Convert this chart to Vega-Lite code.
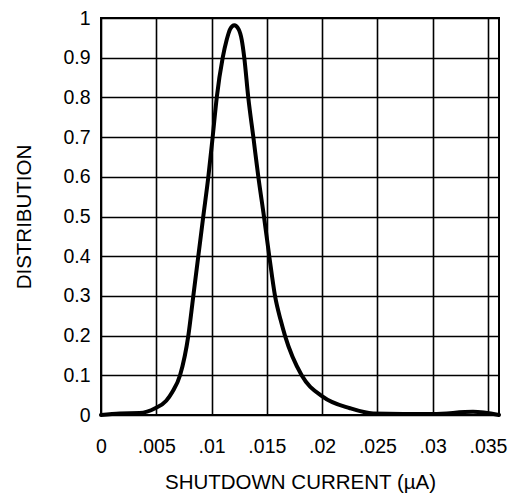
{
  "$schema": "https://vega.github.io/schema/vega-lite/v6.json",
  "width": 398,
  "height": 397,
  "autosize": {"type": "none"},
  "padding": {"left": 101, "top": 18, "right": 20, "bottom": 80},
  "background": "white",
  "config": {
    "view": {"stroke": "black", "strokeWidth": 2},
    "font": "Liberation Sans",
    "axis": {
      "grid": true,
      "gridColor": "black",
      "gridWidth": 1.6,
      "gridOpacity": 1,
      "ticks": false,
      "domain": false,
      "labelFont": "Liberation Sans",
      "labelFontSize": 19.5,
      "labelColor": "black",
      "labelFlush": false,
      "labelOverlap": false,
      "titleFont": "Liberation Sans",
      "titleFontSize": 20.5,
      "titleFontWeight": "normal",
      "titleColor": "black"
    }
  },
  "data": {
    "values": [
      {"current": 0.0, "dist": 0.0},
      {"current": 0.0017, "dist": 0.004},
      {"current": 0.0035, "dist": 0.005},
      {"current": 0.0049, "dist": 0.017},
      {"current": 0.0059, "dist": 0.036},
      {"current": 0.00645, "dist": 0.058},
      {"current": 0.00715, "dist": 0.1},
      {"current": 0.0079, "dist": 0.2},
      {"current": 0.00835, "dist": 0.3},
      {"current": 0.0088, "dist": 0.4},
      {"current": 0.00925, "dist": 0.5},
      {"current": 0.00971, "dist": 0.6},
      {"current": 0.0101, "dist": 0.7},
      {"current": 0.01047, "dist": 0.8},
      {"current": 0.01101, "dist": 0.9},
      {"current": 0.01137, "dist": 0.945},
      {"current": 0.01168, "dist": 0.972},
      {"current": 0.01206, "dist": 0.982},
      {"current": 0.01244, "dist": 0.972},
      {"current": 0.01273, "dist": 0.945},
      {"current": 0.01296, "dist": 0.9},
      {"current": 0.01332, "dist": 0.8},
      {"current": 0.01378, "dist": 0.7},
      {"current": 0.01423, "dist": 0.6},
      {"current": 0.01474, "dist": 0.5},
      {"current": 0.01522, "dist": 0.4},
      {"current": 0.01574, "dist": 0.3},
      {"current": 0.01625, "dist": 0.239},
      {"current": 0.01664, "dist": 0.2},
      {"current": 0.01815, "dist": 0.1},
      {"current": 0.02002, "dist": 0.047},
      {"current": 0.02252, "dist": 0.017},
      {"current": 0.02463, "dist": 0.004},
      {"current": 0.03003, "dist": 0.0025},
      {"current": 0.03365, "dist": 0.008},
      {"current": 0.036, "dist": 0.0}
    ]
  },
  "mark": {"type": "line", "interpolate": "monotone", "color": "black", "strokeWidth": 4, "strokeCap": "round", "strokeJoin": "round"},
  "encoding": {
    "x": {
      "field": "current",
      "type": "quantitative",
      "scale": {"domain": [0, 0.036], "nice": false, "zero": false},
      "axis": {
        "values": [0, 0.005, 0.01, 0.015, 0.02, 0.025, 0.03, 0.035],
        "labelExpr": "datum.value == 0 ? '0' : substring(format(datum.value, '.3~f'), 1)",
        "labelPadding": 22,
        "titlePadding": 17,
        "title": "SHUTDOWN CURRENT (µA)"
      }
    },
    "y": {
      "field": "dist",
      "type": "quantitative",
      "scale": {"domain": [0, 1], "nice": false},
      "axis": {
        "values": [0, 0.1, 0.2, 0.3, 0.4, 0.5, 0.6, 0.7, 0.8, 0.9, 1],
        "format": ".1~f",
        "labelPadding": 11,
        "titlePadding": 28,
        "title": "DISTRIBUTION"
      }
    }
  }
}
